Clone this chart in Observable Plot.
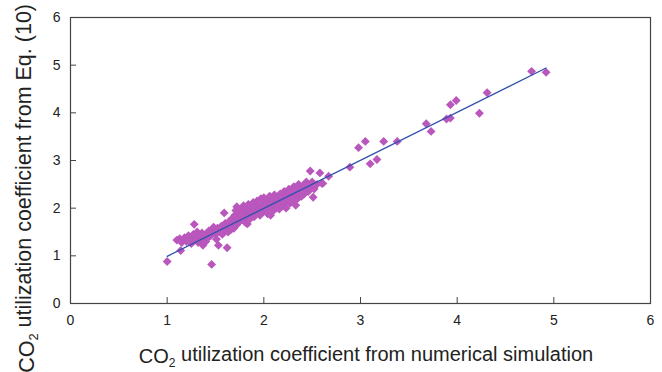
<!DOCTYPE html>
<html>
<head>
<meta charset="utf-8">
<script src="https://cdn.jsdelivr.net/npm/d3@7"></script>
<script src="https://cdn.jsdelivr.net/npm/@observablehq/plot@0.6"></script>
<style>
  html, body { margin: 0; padding: 0; background: #fff; }
  #chart { width: 662px; height: 372px; }
</style>
</head>
<body>
<div id="chart"></div>
<script>
// Simulated (x) vs Eq. (10) (y) CO2 utilization coefficients
const simX = [
  1.00, 1.10, 1.13, 1.14, 1.15, 1.18, 1.20, 1.22, 1.24, 1.25, 1.27, 1.28, 1.28, 1.30, 1.31, 1.32, 1.33, 1.35, 1.36, 1.37, 1.38, 1.40, 1.40,
  1.42, 1.43, 1.45, 1.46, 1.47, 1.48, 1.50, 1.51, 1.52, 1.53, 1.55, 1.56, 1.57, 1.59, 1.60, 1.60, 1.62, 1.62, 1.63, 1.64, 1.65, 1.66, 1.67, 1.68, 1.69, 1.70, 1.70,
  1.71, 1.72, 1.72, 1.73, 1.74, 1.75, 1.76, 1.77, 1.78, 1.79, 1.80, 1.80, 1.81, 1.82, 1.83, 1.83, 1.84, 1.85, 1.86, 1.87, 1.88, 1.89, 1.90, 1.90, 1.91, 1.92, 1.93, 1.94, 1.95, 1.96, 1.97, 1.98, 1.99, 2.00, 2.00,
  2.01, 2.02, 2.03, 2.04, 2.05, 2.06, 2.07, 2.08, 2.09, 2.10, 2.10, 2.11, 2.12, 2.13, 2.14, 2.15, 2.16, 2.17, 2.18, 2.19, 2.20, 2.21, 2.22, 2.23, 2.24, 2.25, 2.26, 2.27, 2.28, 2.29, 2.30,
  2.31, 2.32, 2.33, 2.34, 2.35, 2.36, 2.37, 2.38, 2.39, 2.40, 2.41, 2.42, 2.44, 2.45, 2.46, 2.48, 2.48, 2.50, 2.51, 2.52, 2.55, 2.58, 2.60, 2.61, 2.67,
  2.89, 2.98, 3.05, 3.10, 3.17, 3.24, 3.38, 3.68, 3.73, 3.89, 3.93, 3.93, 3.99, 4.23, 4.31, 4.77, 4.92
];
const eqY = [
  0.88, 1.33, 1.36, 1.11, 1.28, 1.38, 1.30, 1.42, 1.35, 1.26, 1.45, 1.66, 1.32, 1.38, 1.50, 1.28, 1.42, 1.35, 1.48, 1.22, 1.40, 1.30, 1.45,
  1.38, 1.52, 1.42, 0.82, 1.55, 1.60, 1.45, 1.35, 1.58, 1.22, 1.50, 1.62, 1.45, 1.90, 1.55, 1.68, 1.17, 1.60, 1.50, 1.72, 1.62, 1.55, 1.78, 1.66, 1.58, 1.85, 1.72,
  1.95, 2.03, 1.65, 1.80, 1.90, 1.72, 1.98, 1.85, 1.76, 2.05, 1.92, 1.80, 1.70, 2.00, 1.67, 1.88, 2.08, 1.95, 1.78, 2.02, 1.90, 2.12, 1.82, 1.98, 2.05, 1.88, 2.15, 1.95, 2.05, 1.85, 2.20, 2.00, 1.92, 2.10, 2.22,
  1.95, 2.05, 2.15, 1.88, 2.00, 2.25, 1.85, 2.10, 2.02, 2.18, 1.95, 2.28, 2.08, 2.00, 2.20, 2.12, 1.98, 2.30, 2.15, 2.05, 2.22, 2.35, 2.10, 2.00, 2.28, 2.18, 2.40, 2.10, 2.25, 2.35, 2.15,
  2.45, 2.28, 2.06, 2.38, 2.20, 2.50, 2.32, 2.42, 2.25, 2.38, 2.48, 2.30, 2.55, 2.40, 2.35, 2.78, 2.45, 2.55, 2.23, 2.40, 2.50, 2.74, 2.52, 2.52, 2.67,
  2.86, 3.27, 3.40, 2.93, 3.02, 3.40, 3.40, 3.77, 3.61, 3.87, 3.89, 4.17, 4.26, 3.99, 4.42, 4.87, 4.85
];
// Fitted line end points
const fitX = [1.00, 4.92];
const fitY = [0.99, 4.94];
const tickValues = [0, 1, 2, 3, 4, 5, 6];

const points = simX.map((x, i) => ({x, y: eqY[i]}));
const fit = fitX.map((x, i) => ({x, y: fitY[i]}));

const font = "'Liberation Sans', Arial, Helvetica, sans-serif";
const axisColor = "#444";
const fmt = d3.format("d");

const chart = Plot.plot({
  width: 662,
  height: 372,
  marginLeft: 70,
  marginRight: 12,
  marginTop: 17,
  marginBottom: 69,
  style: {fontFamily: font, fontSize: "14px", color: "#222", background: "#fff"},
  x: {domain: [0, 6], ticks: tickValues},
  y: {domain: [0, 6], ticks: tickValues},
  marks: [
    Plot.frame({stroke: axisColor, strokeWidth: 1.2}),
    Plot.axisX({ticks: tickValues, tickSize: -6, tickFormat: () => "", label: null, stroke: axisColor}),
    Plot.axisY({ticks: tickValues, tickSize: -6, tickFormat: () => "", label: null, stroke: axisColor}),
    Plot.axisX({ticks: tickValues, tickSize: 0, tickPadding: 12, tickFormat: fmt, label: null, fill: "#222"}),
    Plot.axisY({ticks: tickValues, tickSize: 0, tickPadding: 10, tickFormat: fmt, label: null, fill: "#222"}),
    Plot.dot(points, {x: "x", y: "y", symbol: "diamond2", r: 4, fill: "#B957BD", stroke: "none"}),
    Plot.line(fit, {x: "x", y: "y", stroke: "#3050AE", strokeWidth: 1.3})
  ]
});

document.getElementById("chart").appendChild(chart);

// Axis titles with subscript
const svg = d3.select(chart);
function addTitle(sel, rest) {
  sel.append("tspan").text("CO");
  sel.append("tspan").attr("font-size", "0.6em").attr("dy", "0.3em").text("2");
  sel.append("tspan").attr("dy", "-0.3em").text(rest);
}
const xt = svg.append("text")
  .attr("x", 366).attr("y", 363)
  .attr("text-anchor", "middle")
  .attr("font-family", font).attr("font-size", 20).attr("fill", "#222");
addTitle(xt, " utilization coefficient from numerical simulation");

const yt = svg.append("text")
  .attr("transform", "translate(34,4) rotate(-90)")
  .attr("text-anchor", "end")
  .attr("font-family", font).attr("font-size", 21.5).attr("fill", "#222");
addTitle(yt, " utilization coefficient from Eq. (10)");
</script>
</body>
</html>
